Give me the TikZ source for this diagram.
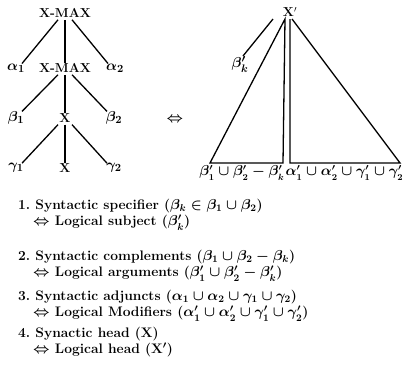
\documentclass[tikz,border=0pt]{standalone}
\usepackage{amsmath,amssymb}
\begin{document}
\begin{tikzpicture}[x=1pt,y=-1pt,
  lab/.style={inner sep=1pt,font=\fontsize{15}{17}\selectfont\boldmath},
  bot/.style={inner sep=0pt,font=\fontsize{13.5}{15}\selectfont\boldmath},
  bx/.style={inner sep=1pt,font=\fontsize{13}{15}\selectfont\bfseries},
  txt/.style={inner sep=0pt,anchor=north west,align=left,font=\fontsize{13.8}{16.5}\selectfont\bfseries\boldmath},
  edge/.style={line width=1.3pt}]
\useasboundingbox (0,0) rectangle (412,373);
% left tree
\node[bx] (t) at (65,13) {X-MAX};
\node[lab] (a1) at (16,68) {$\alpha_1$};
\node[bx] (m) at (65,68) {X-MAX};
\node[lab] (a2) at (115,68) {$\alpha_2$};
\node[lab] (b1) at (16,118) {$\beta_1$};
\node[bx] (x) at (65,118) {X};
\node[lab] (b2) at (114,118) {$\beta_2$};
\node[lab] (g1) at (16,168) {$\gamma_1$};
\node[bx] (xx) at (65,168) {X};
\node[lab] (g2) at (114,168) {$\gamma_2$};
\draw[edge] ([xshift=-7pt,yshift=-1pt]t.south) -- ([xshift=6pt,yshift=-1pt]a1.north);
\draw[edge] ([yshift=-1pt]t.south) -- ([yshift=-1pt]m.north);
\draw[edge] ([xshift=7pt,yshift=-1pt]t.south) -- ([xshift=-7pt,yshift=-1pt]a2.north);
\draw[edge] ([xshift=-7pt,yshift=-1pt]m.south) -- ([xshift=6pt,yshift=-1pt]b1.north);
\draw[edge] ([yshift=-1pt]m.south) -- ([yshift=-1pt]x.north);
\draw[edge] ([xshift=7pt,yshift=-1pt]m.south) -- ([xshift=-7pt,yshift=-1pt]b2.north);
\draw[edge] ([xshift=-7pt,yshift=-1pt]x.south) -- ([xshift=6pt,yshift=-1pt]g1.north);
\draw[edge] ([yshift=-1pt]x.south) -- ([yshift=-1pt]xx.north);
\draw[edge] ([xshift=7pt,yshift=-1pt]x.south) -- ([xshift=-7pt,yshift=-1pt]g2.north);
% equivalence
\node[lab] (eq) at (175,120) {$\Leftrightarrow$};
% right triangles
\node[bx] (xp) at (290,12) {X$'$};
\node[lab] (bk) at (240,64) {$\beta'_k$};
\coordinate (bks) at (273,19);
\coordinate (bke) at (243,56);
\draw[edge] (bks) -- (bke);
\coordinate (la) at (285,19);
\coordinate (lb) at (210,163);
\coordinate (lc) at (283,163);
\coordinate (ra) at (290,19);
\coordinate (rb) at (290,163);
\coordinate (rc) at (400,163);
\coordinate (rs) at (292,19);
\draw[edge,line join=miter] (la) -- (lb) -- (lc) -- cycle;
\draw[edge,line join=miter] (rs) -- (rc) -- (rb) -- (ra);
\node[bot,anchor=east] (lbl) at (284.5,173) {$\beta'_1\cup\beta'_2-\beta'_k$};
\node[bot,anchor=west] (rbl) at (285.5,173) {$\alpha'_1\cup\alpha'_2\cup\gamma'_1\cup\gamma'_2$};
% items
\node[txt] (i1) at (18,198.5) {1.\ Syntactic specifier ($\beta_k\in\beta_1\cup\beta_2$)\\
  \hspace*{15pt}$\Leftrightarrow$ Logical subject ($\beta'_k$)};
\node[txt] (i2) at (18,249.5) {2.\ Syntactic complements ($\beta_1\cup\beta_2-\beta_k$)\\
  \hspace*{15pt}$\Leftrightarrow$ Logical arguments ($\beta'_1\cup\beta'_2-\beta'_k$)};
\node[txt] (i3) at (18,289.5) {3.\ Syntactic adjuncts ($\alpha_1\cup\alpha_2\cup\gamma_1\cup\gamma_2$)\\
  \hspace*{15pt}$\Leftrightarrow$ Logical Modifiers ($\alpha'_1\cup\alpha'_2\cup\gamma'_1\cup\gamma'_2$)};
\node[txt] (i4) at (18,326.5) {4.\ Synactic head (X)\\
  \hspace*{15pt}$\Leftrightarrow$ Logical head (X$'$)};
\end{tikzpicture}
\end{document}
